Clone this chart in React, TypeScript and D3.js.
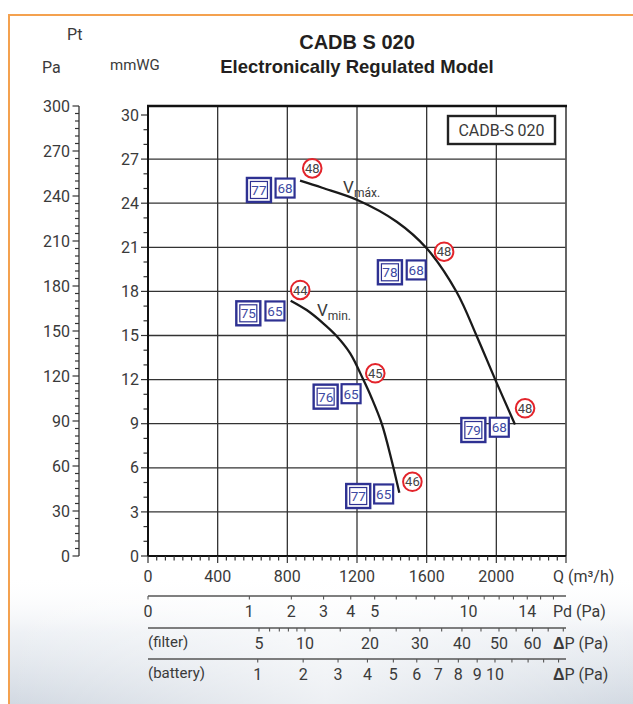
import * as d3 from 'd3'

// axis values
const Q_MAX = 2400
const Q_TICKS = [0, 400, 800, 1200, 1600, 2000]
const MM_TICKS = [0, 3, 6, 9, 12, 15, 18, 21, 24, 27, 30]
const PA_TICKS = [0, 30, 60, 90, 120, 150, 180, 210, 240, 270, 300]

// fan curves (Q m3/h, mmWG)
const VMAX_Q = [873, 1000, 1202, 1428, 1600, 1772, 1887, 1992, 2107]
const VMAX_MM = [25.53, 25.05, 24.22, 22.74, 20.93, 17.96, 14.97, 12.05, 8.95]
const VMIN_Q = [819, 911, 1006, 1080, 1160, 1236, 1284, 1342, 1399, 1443]
const VMIN_MM = [17.37, 16.73, 15.83, 15.0, 13.8, 12.0, 10.75, 9.0, 6.5, 4.3]

// red circles
const CIRCLE_Q = [943, 1700, 874, 1305, 2165, 1518]
const CIRCLE_MM = [26.37, 20.7, 18.1, 12.43, 10.05, 5.05]
const CIRCLE_LABEL = ['48', '48', '44', '45', '48', '46']

// blue boxes
const BOX_Q = [637, 787, 1389, 1540, 576, 729, 1020, 1166, 1868, 2017, 1207, 1353]
const BOX_MM = [24.9, 25.03, 19.3, 19.46, 16.51, 16.67, 10.84, 11.04, 8.57, 8.76, 4.08, 4.22]
const BOX_LABEL = ['77', '68', '78', '68', '75', '65', '76', '65', '79', '68', '77', '65']
const BOX_DOUBLE = [true, false, true, false, true, false, true, false, true, false, true, false]

// lower scales
const PD_Q1 = 582
const PD_TICKS = d3.range(0, 17)
const PD_LABELS = [0, 1, 2, 3, 4, 5, 10, 14]
const FILTER_Q1 = 285
const FILTER_TICKS = [5, 6, 7, 8, 9, 10, 15, 20, 25, 30, 35, 40, 45, 50, 55, 60, 65, 70]
const FILTER_LABELS = [5, 10, 20, 30, 40, 50, 60]
const BATTERY_Q1 = 630
const BATTERY_TICKS = d3.range(1, 15)
const BATTERY_LABELS = [1, 2, 3, 4, 5, 6, 7, 8, 9, 10]

const FONT = 'Roboto, sans-serif'
const TXT = '#3a3a3a'
const NAVY = '#2e3192'

export default function App() {
    const W = 633, H = 704
    const x = d3.scaleLinear().domain([0, Q_MAX]).range([148, 566])
    const y = d3.scaleLinear().domain([0, 30]).range([556, 115])
    const yPa = d3.scaleLinear().domain([0, 300]).range([556, 106])
    const top = yPa(300)

    const line = d3.line<[number, number]>()
        .x(d => x(d[0]))
        .y(d => y(d[1]))
        .curve(d3.curveCatmullRom.alpha(0.5))
    const vmax = VMAX_Q.map((q, i) => [q, VMAX_MM[i]] as [number, number])
    const vmin = VMIN_Q.map((q, i) => [q, VMIN_MM[i]] as [number, number])

    const sub = (q1: number) => d3.scaleSqrt().domain([0, (Q_MAX / q1) ** 2]).range([148, 566])
    const xPd = sub(PD_Q1)
    const xF = sub(FILTER_Q1)
    const xB = sub(BATTERY_Q1)

    const lower = [
        { ly: 596, sc: xPd, ticks: PD_TICKS, labels: PD_LABELS, left: '', right: 'Pd (Pa)', delta: false },
        { ly: 628, sc: xF, ticks: FILTER_TICKS, labels: FILTER_LABELS, left: '(filter)', right: 'P (Pa)', delta: true },
        { ly: 659, sc: xB, ticks: BATTERY_TICKS, labels: BATTERY_LABELS, left: '(battery)', right: 'P (Pa)', delta: true },
    ]

    return (
        <svg width={W} height={H} style={{ position: 'fixed', left: 0, top: 0 }} fontFamily={FONT}>
            <defs>
                <linearGradient id="bg" x1="0" y1="0" x2="0" y2="1">
                    <stop offset="0" stopColor="#ffffff" stopOpacity={0} />
                    <stop offset="0.45" stopColor="#e9edf2" stopOpacity={0.8} />
                    <stop offset="1" stopColor="#d2d9e2" stopOpacity={1} />
                </linearGradient>
                <linearGradient id="bgh" x1="0" y1="0" x2="1" y2="0">
                    <stop offset="0" stopColor="#ffffff" stopOpacity={0} />
                    <stop offset="0.5" stopColor="#ffffff" stopOpacity={0.6} />
                    <stop offset="1" stopColor="#ffffff" stopOpacity={0} />
                </linearGradient>
            </defs>
            <rect width={W} height={H} fill="#fff" />
            <rect x={9} y={575} width={W} height={H - 575} fill="url(#bg)" />
            <rect x={9} y={575} width={W} height={H - 575} fill="url(#bgh)" />
            {/* orange frame */}
            <path d={`M9,${H} V15 H${W}`} fill="none" stroke="#f4a14f" strokeWidth={2} />

            {/* titles */}
            <text x={357} y={49} textAnchor="middle" fontFamily="Liberation Sans, Arial, sans-serif"
                fontWeight="bold" fontSize={20} fill="#231f20">CADB S 020</text>
            <text x={357} y={73} textAnchor="middle" fontFamily="Liberation Sans, Arial, sans-serif"
                fontWeight="bold" fontSize={18.5} fill="#231f20">Electronically Regulated Model</text>
            <text x={67} y={40} fontSize={16} fill={TXT}>Pt</text>
            <text x={42} y={73} fontSize={16} fill={TXT}>Pa</text>
            <text x={110} y={70} fontSize={15} fill={TXT}>mmWG</text>

            {/* Pa axis */}
            <line x1={79} x2={79} y1={yPa(0)} y2={yPa(300)} stroke="#333" strokeWidth={1.3} />
            {d3.range(0, 301, 5).map(v => (
                <line key={'pa' + v} x1={v % 30 === 0 ? 72.5 : 75} x2={79} y1={yPa(v)} y2={yPa(v)}
                    stroke="#333" strokeWidth={1.2} />
            ))}
            {PA_TICKS.map(v => (
                <text key={'pal' + v} x={70} y={yPa(v)} dy="0.35em" textAnchor="end" fontSize={16} fill={TXT}>{v}</text>
            ))}

            {/* mmWG axis ticks */}
            {d3.range(0, 31).map(v => (
                <line key={'mm' + v} x1={v % 3 === 0 ? 141 : 143.5} x2={148} y1={y(v)} y2={y(v)}
                    stroke="#333" strokeWidth={1.2} />
            ))}
            {MM_TICKS.map(v => (
                <text key={'mml' + v} x={139} y={y(v)} dy="0.35em" textAnchor="end" fontSize={16} fill={TXT}>{v}</text>
            ))}

            {/* grid */}
            {Q_TICKS.slice(1).map(q => (
                <line key={'gx' + q} x1={x(q)} x2={x(q)} y1={y(0)} y2={top} stroke="#333" strokeWidth={1.3} />
            ))}
            {MM_TICKS.slice(1, -1).map(v => (
                <line key={'gy' + v} x1={x(0)} x2={x(Q_MAX)} y1={y(v)} y2={y(v)} stroke="#333" strokeWidth={1.3} />
            ))}
            <line x1={x(Q_MAX)} x2={x(Q_MAX)} y1={y(0)} y2={top} stroke="#555" strokeWidth={1.8} />
            <line x1={x(0) - 1} x2={x(Q_MAX) + 1} y1={top} y2={top} stroke="#111" strokeWidth={2.6} />
            <line x1={x(0)} x2={x(0)} y1={y(0)} y2={top} stroke="#111" strokeWidth={2} />
            <line x1={x(0)} x2={x(Q_MAX)} y1={y(0)} y2={y(0)} stroke="#111" strokeWidth={1.8} />

            {/* Q axis */}
            {d3.range(0, Q_MAX + 1, 50).map(q => (
                <line key={'qt' + q} x1={x(q)} x2={x(q)} y1={y(0)} y2={y(0) + (q % 400 === 0 ? 7 : 4.5)}
                    stroke="#333" strokeWidth={1.2} />
            ))}
            {Q_TICKS.map(q => (
                <text key={'ql' + q} x={x(q)} y={582} textAnchor="middle" fontSize={16} fill={TXT}>{q}</text>
            ))}
            <text x={553} y={582} fontSize={16} fill={TXT}>Q (m³/h)</text>

            {/* lower scales */}
            {lower.map((s, i) => (
                <g key={'low' + i}>
                    <line x1={148} x2={566} y1={s.ly} y2={s.ly} stroke="#555" strokeWidth={1.5} />
                    {s.ticks.map(t => (
                        <line key={'t' + t} x1={s.sc(t)} x2={s.sc(t)} y1={s.ly} y2={s.ly + 3.5} stroke="#555" strokeWidth={1.1} />
                    ))}
                    {s.labels.map(t => (
                        <text key={'l' + t} x={s.sc(t)} y={s.ly + 21} textAnchor="middle" fontSize={16} fill={TXT}>{t}</text>
                    ))}
                    {s.left && <text x={148} y={s.ly + 19} fontSize={15} fill={TXT}>{s.left}</text>}
                    <text x={553} y={s.ly + 21} fontSize={16} fill={TXT}>
                        {s.delta && <tspan fontWeight="bold" fontFamily="Liberation Sans, Arial, sans-serif">Δ</tspan>}
                        {s.right}
                    </text>
                </g>
            ))}

            {/* legend box */}
            <rect x={448} y={116} width={107} height={28} fill="#fff" stroke="#222" strokeWidth={2.4} />
            <text x={501.5} y={136} textAnchor="middle" fontSize={16} fill={TXT}>CADB-S 020</text>

            {/* curves */}
            <path d={line(vmax) || ''} fill="none" stroke="#1a1a1a" strokeWidth={2.3} />
            <path d={line(vmin) || ''} fill="none" stroke="#1a1a1a" strokeWidth={2.3} />
            <text x={x(1120)} y={y(24.7)} fontSize={17} fill={TXT}>V<tspan fontSize={12} dy={4}>máx.</tspan></text>
            <text x={x(970)} y={y(16.3)} fontSize={17} fill={TXT}>V<tspan fontSize={12} dy={4}>min.</tspan></text>

            {/* red circles */}
            {CIRCLE_Q.map((q, i) => (
                <g key={'c' + i} transform={`translate(${x(q)},${y(CIRCLE_MM[i])})`}>
                    <circle r={9.3} fill="#fff" stroke="#e3242b" strokeWidth={2} />
                    <text dy="0.36em" textAnchor="middle" fontSize={13} fill="#444">{CIRCLE_LABEL[i]}</text>
                </g>
            ))}

            {/* blue boxes */}
            {BOX_Q.map((q, i) => (
                <g key={'b' + i} transform={`translate(${x(q)},${y(BOX_MM[i])})`}>
                    {BOX_DOUBLE[i] ? (
                        <>
                            <rect x={-12} y={-12} width={24} height={24} fill="#fff" stroke={NAVY} strokeWidth={2.4} />
                            <rect x={-8.5} y={-8.5} width={17} height={17} fill="#fff" stroke={NAVY} strokeWidth={1.2} />
                        </>
                    ) : (
                        <rect x={-9.5} y={-9.5} width={19} height={19} fill="#fff" stroke={NAVY} strokeWidth={2.2} />
                    )}
                    <text dy="0.36em" textAnchor="middle" fontSize={13.5} fill="#3d4aa3">{BOX_LABEL[i]}</text>
                </g>
            ))}
        </svg>
    )
}
